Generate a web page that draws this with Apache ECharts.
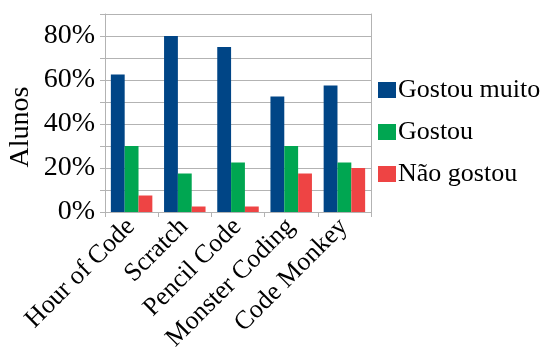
<!DOCTYPE html>
<html>
<head>
<meta charset="utf-8">
<script src="https://cdn.jsdelivr.net/npm/echarts@6/dist/echarts.min.js"></script>
<style>html,body{margin:0;padding:0;background:#fff}#c{width:551px;height:356px}</style>
</head>
<body>
<div id="c"></div>
<script>
var categories = ['Hour of Code', 'Scratch', 'Pencil Code', 'Monster Coding', 'Code Monkey'];
var seriesNames = ['Gostou muito', 'Gostou', 'Não gostou'];
var gostouMuito = [62.5, 80, 75, 52.5, 57.5];
var gostou = [30, 17.5, 22.5, 30, 22.5];
var naoGostou = [7.5, 2.5, 2.5, 17.5, 20];
var yTickLabels = ['0%', '20%', '40%', '60%', '80%'];
var colors = ['#004586', '#00a651', '#ee4444'];

var font = "'Liberation Serif', 'Times New Roman', 'DejaVu Serif'";
var chart = echarts.init(document.getElementById('c'), null, {renderer: 'canvas'});
function bar(name, data, color) {
  return {name: name, type: 'bar', data: data, barGap: '0%', barCategoryGap: '22%',
    itemStyle: {color: color}, yAxisIndex: 0};
}
chart.setOption({
  animation: false,
  color: colors,
  textStyle: {fontFamily: font},
  grid: {left: 105, right: 180, top: 14, bottom: 144, containLabel: false},
  legend: {
    orient: 'vertical', left: 373, top: 70, itemWidth: 18, itemHeight: 16, itemGap: 12,
    icon: 'rect',
    textStyle: {fontFamily: font, fontSize: 26, color: '#000', lineHeight: 30, padding: [0, 0, 0, -3],
      rich: {t: {fontFamily: font, fontSize: 26, color: '#000'}}},
    formatter: function (n) { return '{t|' + n + '}'; },
    data: seriesNames
  },
  xAxis: {
    type: 'category', data: categories,
    axisLine: {lineStyle: {color: '#b3b3b3'}},
    axisTick: {show: true, length: 5, lineStyle: {color: '#b3b3b3'}},
    axisLabel: {rotate: 45, margin: 10, fontFamily: font, fontSize: 26, color: '#000', interval: 0,
      padding: [0, 1, 0, 0]}
  },
  yAxis: [{
    type: 'value', min: 0, max: 90, interval: 10,
    name: 'Alunos', nameLocation: 'middle', nameGap: 70,
    nameTextStyle: {fontFamily: font, fontSize: 28, color: '#000', padding: [0, 28, 0, 0]},
    axisLine: {show: true, lineStyle: {color: '#b3b3b3'}},
    axisTick: {show: true, length: 5, lineStyle: {color: '#b3b3b3'}},
    splitLine: {show: true, lineStyle: {color: '#b3b3b3'}},
    axisLabel: {margin: 9, fontFamily: font, fontSize: 28, color: '#000', padding: [0, 1, 0, 0],
      formatter: function (v) { return (v % 20 === 0) ? yTickLabels[v / 20] : ''; }}
  }, {
    type: 'value', min: 0, max: 90, interval: 10, position: 'right',
    axisLine: {show: true, lineStyle: {color: '#b3b3b3'}},
    axisTick: {show: false}, axisLabel: {show: false}, splitLine: {show: false}
  }],
  series: [
    bar(seriesNames[0], gostouMuito, colors[0]),
    bar(seriesNames[1], gostou, colors[1]),
    bar(seriesNames[2], naoGostou, colors[2])
  ]
});
</script>
</body>
</html>
